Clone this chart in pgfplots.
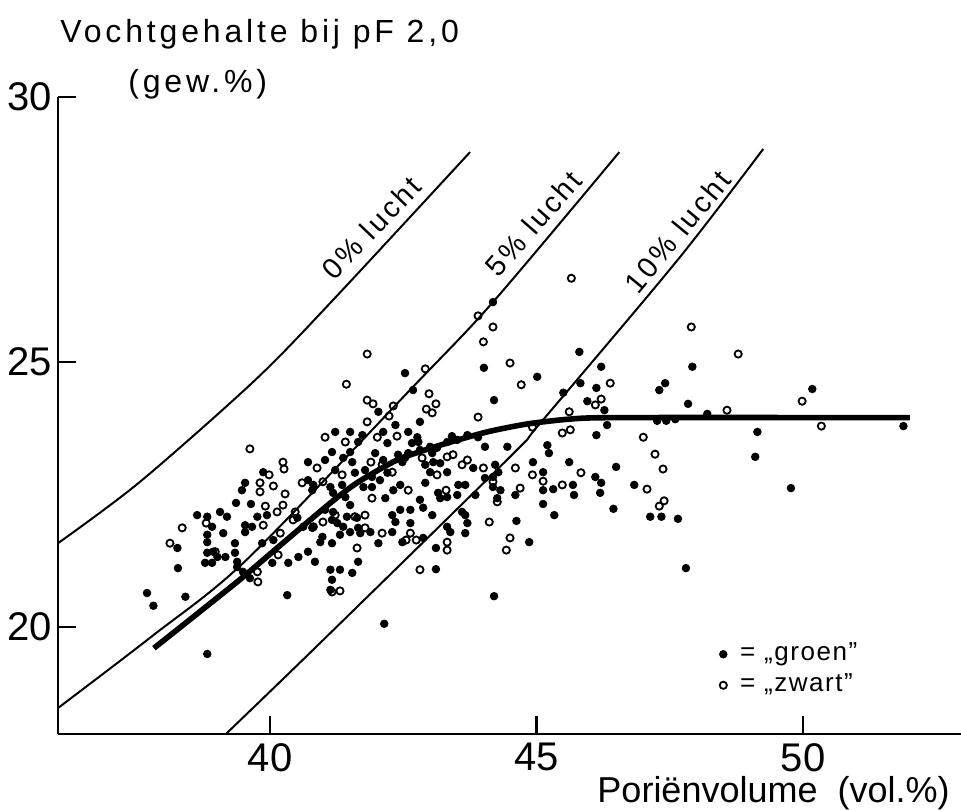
\documentclass[border=0pt]{standalone}
\usepackage{fontspec}
\setmainfont{Liberation Sans}
\newfontfamily\widefont[LetterSpace=12]{Liberation Sans}
\newfontfamily\medfont[LetterSpace=10]{Liberation Sans}
\newfontfamily\legfont[LetterSpace=6]{Liberation Sans}
\usepackage{pgfplots}
\pgfplotsset{compat=1.18}
\begin{document}
\begin{tikzpicture}
\useasboundingbox (0,0) rectangle (480.5bp,405bp);
\begin{axis}[
  at={(29bp,38bp)}, anchor=south west,
  scale only axis, width=451.5bp, height=318.5bp,
  xmin=36.02, xmax=52.96, ymin=17.98, ymax=30,
  axis x line*=bottom, axis y line*=left,
  axis line style={line width=1.3bp, black},
  xtick={40,45,50}, ytick={20,25,30},
  tick align=inside, major tick length=9bp,
  tick style={line width=1.2bp, black},
  /pgf/number format/assume math mode=true,
  ticklabel style={font=\fontsize{20bp}{22bp}\selectfont},
  xticklabel style={inner sep=0pt, yshift=-4.5bp},
  yticklabel style={inner sep=0pt, xshift=-3bp},
  legend style={draw=none, fill=none, at={(axis cs:48.31,19.85)}, anchor=north west,
    font=\legfont\fontsize{13bp}{14bp}\selectfont,
    nodes={inner sep=1.5bp, text height=9bp, text depth=3bp}, row sep=0.5bp},
  legend cell align=left,
  legend image code/.code={\draw[#1] plot coordinates {(0bp,0bp)};},
  clip=false,
]
% luchtlijnen
\addplot[black, line width=1bp, smooth, forget plot] coordinates {
 (36.02,21.58) (37.56,22.74) (39.72,24.66) (41.18,26.17) (43.75,28.96)};
\addplot[black, line width=1bp, smooth, forget plot] coordinates {
 (36.02,18.47) (37.79,19.83) (39.55,21.26) (42.66,24.51) (44.18,26.13) (46.55,28.96)};
\addplot[black, line width=1bp, smooth, forget plot] coordinates {
 (39.17,17.98) (40.94,19.70) (44.50,23.21) (45.07,23.85) (47.64,26.92) (49.25,29.02)};
% fitted curve
\addplot[black, line width=2.8bp, smooth, tension=0.4, forget plot] coordinates {
 (37.82,19.60) (39.38,20.85) (40.2,21.55) (41.13,22.34) (41.63,22.72) (42.38,23.15)
 (43.19,23.43) (44.07,23.68) (44.82,23.83) (45.6,23.92) (46.5,23.95) (52.0,23.95)};
% groen
\addplot[only marks, mark=*, mark size=1.9bp, black] coordinates {
(40.71,23.11)(41.03,23.15)(39.87,22.92)(39.53,22.72)(39.47,22.58)(40.71,22.77)(40.81,22.68)(40.79,22.58)
(39.36,22.34)(39.64,22.32)(38.63,22.11)(38.82,22.08)(38.91,21.89)(39.06,22.17)(39.19,22.08)(39.76,22.08)
(39.94,22.11)(40.51,22.06)(41.03,22.21)(39.53,21.92)(39.53,21.79)(39.66,21.89)(40.62,21.89)(40.79,21.87)
(40.98,21.70)(40.94,21.60)(39.12,21.77)(38.26,21.49)(38.82,21.74)(38.82,21.60)(39.34,21.58)(39.85,21.58)
(40.06,21.64)(40.53,21.32)(40.71,21.42)(40.84,21.23)(38.82,21.40)(38.93,21.42)(39.01,21.32)(39.16,21.32)
(38.78,21.21)(38.91,21.21)(39.34,21.40)(39.38,21.23)(39.38,21.13)(38.27,21.11)(39.49,21.04)(39.62,20.92)
(40.04,21.21)(40.34,21.21)(41.13,20.70)(37.69,20.64)(37.81,20.40)(38.41,20.57)(40.32,20.60)(38.82,19.49)
(42.68,24.47)(44.20,24.28)(42.03,24.06)(42.81,23.87)(42.35,23.81)(42.59,23.68)(42.12,23.68)(41.22,23.68)
(41.50,23.68)(41.73,23.62)(41.65,23.49)(42.76,23.58)(42.78,23.49)(42.20,23.47)(42.66,23.47)(43.41,23.60)
(43.70,23.62)(43.90,23.58)(43.32,23.49)(43.51,23.53)(44.45,23.40)(44.03,23.40)(41.16,23.30)(42.40,23.25)
(42.53,23.19)(42.59,23.28)(42.48,23.11)(42.81,23.34)(43.00,23.40)(43.13,23.38)(41.97,23.28)(42.12,23.15)
(41.54,23.11)(41.59,22.91)(41.22,22.96)(41.78,22.96)(41.91,22.83)(42.06,22.77)(42.20,22.91)(43.04,23.28)
(43.06,23.11)(43.19,23.09)(42.91,23.06)(43.00,22.92)(43.32,22.92)(43.81,23.00)(44.22,23.06)(44.28,22.92)
(44.18,22.83)(44.03,22.81)(41.13,22.64)(41.35,22.68)(41.75,22.64)(41.91,22.64)(42.31,22.58)(42.91,22.72)
(42.44,22.68)(43.15,22.53)(43.32,22.45)(43.19,22.43)(43.53,22.68)(43.66,22.68)(43.51,22.49)(43.85,22.49)
(44.18,22.64)(44.32,22.58)(44.26,22.43)(44.60,22.49)(41.50,23.30)(41.37,23.19)(41.18,22.53)(41.41,22.45)
(42.16,22.43)(42.81,22.40)(41.50,22.30)(41.18,22.17)(41.16,22.02)(41.26,21.96)(41.44,22.08)(41.63,22.06)
(41.37,21.89)(41.50,21.79)(41.65,21.87)(41.31,21.74)(41.69,21.77)(41.88,21.79)(42.29,22.11)(42.35,21.98)
(42.44,22.21)(42.63,22.21)(42.63,21.96)(42.87,22.25)(43.04,22.11)(42.29,21.79)(42.48,21.60)(42.87,21.68)
(42.03,21.58)(41.16,21.58)(41.65,21.23)(41.31,21.08)(41.54,21.02)(41.13,21.08)(41.16,20.89)(43.32,21.89)
(43.38,21.79)(43.60,22.17)(43.66,22.11)(43.70,21.96)(43.66,21.77)(43.11,21.49)(43.11,21.09)(44.62,22.00)
(44.86,21.60)(44.20,20.58)(42.14,20.06)
(42.53,24.79)(44.18,26.13)(44.01,24.89)
(45.80,25.19)(46.21,24.91)(45.01,24.72)(47.92,24.91)(45.82,24.60)(45.50,24.42)(46.12,24.51)(47.41,24.60)
(47.30,24.47)(45.95,24.26)(46.27,24.09)(47.84,24.21)(47.26,23.89)(47.43,23.89)(47.60,23.92)(48.20,24.02)
(46.32,23.81)(46.12,23.62)(45.20,23.43)(45.23,23.28)(44.93,23.11)(45.61,23.11)(46.49,23.02)(45.12,22.92)
(45.12,22.58)(45.31,22.60)(45.68,22.68)(45.70,22.49)(46.10,22.83)(46.21,22.72)(46.19,22.53)(46.83,22.68)
(45.12,22.32)(45.33,22.11)(46.44,22.23)(47.13,22.08)(47.34,22.08)(47.65,22.04)
(50.17,24.49)(51.88,23.79)(49.14,23.68)(49.10,23.21)(49.77,22.62)(47.80,21.11)
};
\addlegendentry{\hspace{5bp}= „groen”}
% zwart
\addplot[only marks, mark=o, mark size=1.8bp, black, line width=0.9bp] coordinates {
(41.03,23.58)(39.62,23.36)(40.24,23.11)(40.26,22.98)(40.88,23.00)(39.98,22.87)(39.81,22.72)(40.06,22.66)
(39.81,22.55)(40.28,22.51)(40.60,22.72)(40.99,22.74)(39.91,22.28)(40.24,22.30)(40.13,22.17)(38.80,21.96)
(39.87,21.92)(40.47,22.17)(40.99,21.98)(40.19,21.77)(40.43,22.02)(40.81,21.89)(38.35,21.87)(38.12,21.58)
(40.15,21.36)(38.97,21.42)(39.76,21.04)(39.77,20.85)
(41.43,24.58)(44.71,24.57)(42.98,24.40)(41.82,24.28)(41.93,24.21)(43.11,24.21)(42.93,24.11)(43.04,24.04)
(42.31,24.17)(42.23,23.98)(43.90,23.96)(41.82,23.87)(41.41,23.49)(42.01,23.58)(42.38,23.60)(41.89,23.11)
(42.10,23.06)(42.29,22.92)(41.35,22.87)(42.85,23.19)(43.13,22.87)(43.32,23.21)(43.43,23.25)(43.60,23.06)
(43.70,23.15)(44.00,23.00)(44.60,23.00)(42.59,22.58)(43.30,22.58)(44.18,22.74)(44.26,22.36)(44.69,22.62)
(41.91,22.43)(41.22,22.11)(41.59,22.08)(41.78,22.11)(41.78,21.87)(42.10,21.77)(42.63,21.77)(42.55,21.64)
(42.74,21.64)(41.63,21.49)(41.16,20.66)(41.31,20.68)(43.32,21.60)(43.32,21.45)(42.81,21.08)(44.11,21.98)
(44.50,21.68)(44.43,21.45)
(41.82,25.15)(42.91,24.87)(43.90,25.87)(44.18,25.66)(44.00,25.38)(44.50,24.98)
(45.65,26.58)(47.90,25.66)(46.38,24.60)(46.21,24.30)(46.10,24.19)(45.61,24.06)(48.57,24.09)(45.48,23.66)
(45.63,23.72)(47.00,23.58)(44.92,23.77)(47.22,23.26)(47.37,22.98)(45.83,22.91)(44.92,22.87)(45.12,22.75)
(45.48,22.68)(47.07,22.60)(47.39,22.38)(47.30,22.28)
(48.78,25.15)(49.98,24.26)(50.34,23.79)
};
\addlegendentry{\hspace{5bp}= „zwart”}
\node[rotate=46.2, font=\medfont\fontsize{14.5bp}{16bp}\selectfont] at (axis cs:41.90,27.53) {0\% lucht};
\node[rotate=48.8, font=\medfont\fontsize{14.5bp}{16bp}\selectfont] at (axis cs:44.94,27.61) {5\% lucht};
\node[rotate=50.6, font=\medfont\fontsize{14.5bp}{16bp}\selectfont] at (axis cs:47.64,27.46) {10\% lucht};
\end{axis}
\node[anchor=base west, inner sep=0pt, font=\widefont\fontsize{16bp}{18bp}\selectfont] at (30bp,383.5bp) {Vochtgehalte bij pF 2,0};
\node[anchor=base west, inner sep=0pt, font=\widefont\fontsize{16bp}{18bp}\selectfont] at (64bp,358.5bp) {(gew.\%)};
\node[anchor=base east, inner sep=0pt, font=\fontsize{18bp}{20bp}\selectfont] at (475bp,4bp) {Poriënvolume \ (vol.\%)};
\end{tikzpicture}
\end{document}
